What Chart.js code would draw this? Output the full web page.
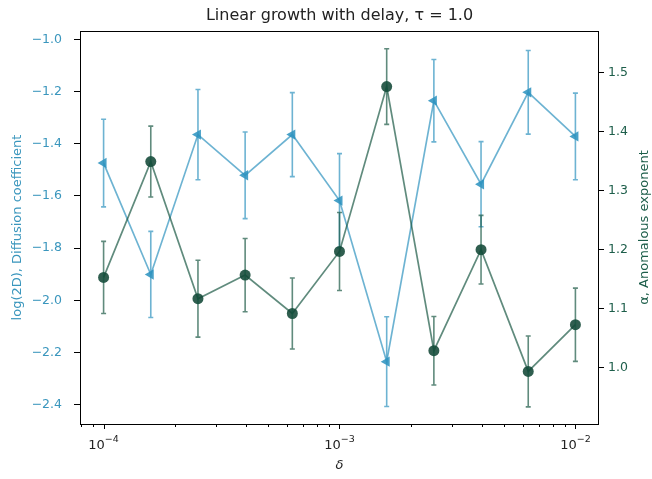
<!DOCTYPE html>
<html>
<head>
    <title>Linear growth with delay</title>
    <style>
        body { margin: 0; background: #fff; }
        #wrap { width: 652px; height: 479px; }
    </style>
    <script src="https://cdn.jsdelivr.net/npm/chart.js"></script>
</head>
<body>
    <div id="wrap"><canvas id="growthChart" width="652" height="479"></canvas></div>

    <script>
        // delay parameter (log-spaced)
        const delta = [1e-4, 1.585e-4, 2.512e-4, 3.981e-4, 6.310e-4, 1e-3, 1.585e-3, 2.512e-3, 3.981e-3, 6.310e-3, 1e-2];

        // log(2D) with its error
        const logD    = [-1.474, -1.901, -1.365, -1.521, -1.365, -1.618, -2.235, -1.235, -1.555, -1.203, -1.372];
        const logDErr = [0.168, 0.165, 0.173, 0.166, 0.161, 0.180, 0.172, 0.158, 0.163, 0.160, 0.166];

        // anomalous exponent with its error
        const alpha    = [1.153, 1.349, 1.117, 1.157, 1.092, 1.197, 1.476, 1.029, 1.200, 0.994, 1.073];
        const alphaErr = [0.061, 0.060, 0.065, 0.062, 0.060, 0.066, 0.064, 0.058, 0.058, 0.060, 0.062];

        const leftTicks  = [-2.4, -2.2, -2.0, -1.8, -1.6, -1.4, -1.2, -1.0];
        const rightTicks = [1.0, 1.1, 1.2, 1.3, 1.4, 1.5];
        const xMajor = [1e-4, 1e-3, 1e-2];
        const xMinor = [8e-5, 9e-5, 2e-4, 3e-4, 4e-4, 5e-4, 6e-4, 7e-4, 8e-4, 9e-4,
                        2e-3, 3e-3, 4e-3, 5e-3, 6e-3, 7e-3, 8e-3, 9e-3];

        const BLUE = 'rgba(52,150,192,0.72)';
        const BLUE_PT = 'rgba(40,145,190,0.85)';
        const BLUE_TXT = '#3a96bd';
        const GREEN = 'rgba(20,84,64,0.68)';
        const GREEN_PT = 'rgba(18,72,55,0.88)';
        const GREEN_TXT = '#1d5e4a';
        const FONT = 'DejaVu Sans';

        const minus = v => v.toFixed(1).replace('-', '\u2212');

        // vertical error bars with caps, drawn in the dataset's colour
        const errorBars = {
            id: 'errorBars',
            afterDatasetDraw(chart, args) {
                const ds = chart.data.datasets[args.index];
                if (!ds.errors) return;
                const yScale = chart.scales[ds.yAxisID];
                const ctx = chart.ctx;
                ctx.save();
                ctx.strokeStyle = ds.borderColor;
                ctx.lineWidth = 1.6;
                args.meta.data.forEach((pt, i) => {
                    const v = ds.data[i].y, e = ds.errors[i];
                    const yTop = yScale.getPixelForValue(v + e);
                    const yBot = yScale.getPixelForValue(v - e);
                    ctx.beginPath();
                    ctx.moveTo(pt.x, yTop); ctx.lineTo(pt.x, yBot);
                    ctx.moveTo(pt.x - 2.5, yTop); ctx.lineTo(pt.x + 2.5, yTop);
                    ctx.moveTo(pt.x - 2.5, yBot); ctx.lineTo(pt.x + 2.5, yBot);
                    ctx.stroke();
                });
                ctx.restore();
            }
        };

        // frame, log x ticks with 10^n labels, title, x label and right y label
        const decorations = {
            id: 'decorations',
            afterDraw(chart) {
                const ctx = chart.ctx;
                const a = chart.chartArea;
                const xs = chart.scales.x;
                ctx.save();
                ctx.strokeStyle = '#000';
                ctx.lineWidth = 1;
                ctx.strokeRect(a.left + 0.5, a.top + 0.5, a.right - a.left - 1, a.bottom - a.top);

                ctx.beginPath();
                xMinor.forEach(v => {
                    const px = Math.round(xs.getPixelForValue(v)) + 0.5;
                    ctx.moveTo(px, a.bottom); ctx.lineTo(px, a.bottom + 3);
                });
                xMajor.forEach(v => {
                    const px = Math.round(xs.getPixelForValue(v)) + 0.5;
                    ctx.moveTo(px, a.bottom); ctx.lineTo(px, a.bottom + 5);
                });
                ctx.stroke();

                ctx.fillStyle = '#222';
                ctx.textBaseline = 'alphabetic';
                xMajor.forEach(v => {
                    const px = xs.getPixelForValue(v);
                    const exp = '\u2212' + Math.round(-Math.log10(v));
                    ctx.font = '13px ' + FONT;
                    const w1 = ctx.measureText('10').width;
                    ctx.font = '9.5px ' + FONT;
                    const w2 = ctx.measureText(exp).width;
                    const x0 = px - (w1 + w2) / 2;
                    ctx.font = '13px ' + FONT;
                    ctx.textAlign = 'left';
                    ctx.fillText('10', x0, a.bottom + 25);
                    ctx.font = '9.5px ' + FONT;
                    ctx.fillText(exp, x0 + w1, a.bottom + 18);
                });

                ctx.textAlign = 'center';
                ctx.font = 'italic 13px ' + FONT;
                ctx.fillText('\u03b4', (a.left + a.right) / 2, a.bottom + 45);

                ctx.font = '16px ' + FONT;
                ctx.fillText('Linear growth with delay, \u03c4 = 1.0', (a.left + a.right) / 2, 20);

                // right axis label reads bottom to top
                ctx.translate(645, (a.top + a.bottom) / 2);
                ctx.rotate(-Math.PI / 2);
                ctx.textBaseline = 'middle';
                ctx.fillStyle = GREEN_TXT;
                ctx.font = '13px ' + FONT;
                ctx.fillText('\u03b1, Anomalous exponent', 0, 0);
                ctx.restore();
            }
        };

        const ctx = document.getElementById('growthChart').getContext('2d');
        new Chart(ctx, {
            type: 'line',
            data: {
                datasets: [
                    {
                        label: 'alpha',
                        data: delta.map((x, i) => ({ x: x, y: alpha[i] })),
                        errors: alphaErr,
                        yAxisID: 'yR',
                        borderColor: GREEN,
                        backgroundColor: GREEN_PT,
                        borderWidth: 1.7,
                        pointStyle: 'circle',
                        pointRadius: 5.5,
                        pointBorderWidth: 0,
                        tension: 0
                    },
                    {
                        label: 'logD',
                        data: delta.map((x, i) => ({ x: x, y: logD[i] })),
                        errors: logDErr,
                        yAxisID: 'yL',
                        borderColor: BLUE,
                        backgroundColor: BLUE_PT,
                        borderWidth: 1.7,
                        pointStyle: 'triangle',
                        pointRotation: -90,
                        pointRadius: 6,
                        pointBorderWidth: 0,
                        tension: 0
                    }
                ]
            },
            plugins: [errorBars, decorations],
            options: {
                responsive: false,
                animation: false,
                layout: { padding: { top: 31, bottom: 47, left: 0, right: 0 } },
                plugins: {
                    legend: { display: false },
                    tooltip: { enabled: false }
                },
                scales: {
                    x: {
                        type: 'logarithmic',
                        min: Math.pow(10, -4.1),
                        max: Math.pow(10, -1.9),
                        grid: { display: false },
                        border: { display: false },
                        ticks: { display: false }
                    },
                    yL: {
                        type: 'linear',
                        position: 'left',
                        min: -2.474,
                        max: -0.968,
                        afterBuildTicks: s => { s.ticks = leftTicks.map(v => ({ value: v })); },
                        afterFit: s => { s.width = 80; },
                        grid: { drawOnChartArea: false, tickLength: 6, color: '#000' },
                        border: { display: false },
                        ticks: {
                            color: BLUE_TXT,
                            padding: 12,
                            font: { family: FONT, size: 12.5 },
                            callback: v => minus(v)
                        },
                        title: {
                            display: true,
                            text: 'log(2D), Diffusion coefficient',
                            color: BLUE_TXT,
                            padding: { top: 10, bottom: 0 },
                            font: { family: FONT, size: 13 }
                        }
                    },
                    yR: {
                        type: 'linear',
                        position: 'right',
                        min: 0.905,
                        max: 1.570,
                        afterBuildTicks: s => { s.ticks = rightTicks.map(v => ({ value: v })); },
                        afterFit: s => { s.width = 53; },
                        grid: { drawOnChartArea: false, tickLength: 5, color: '#000' },
                        border: { display: false },
                        ticks: {
                            color: GREEN_TXT,
                            padding: 4,
                            font: { family: FONT, size: 12.5 },
                            callback: v => minus(v)
                        }
                    }
                }
            }
        });
    </script>
</body>
</html>
